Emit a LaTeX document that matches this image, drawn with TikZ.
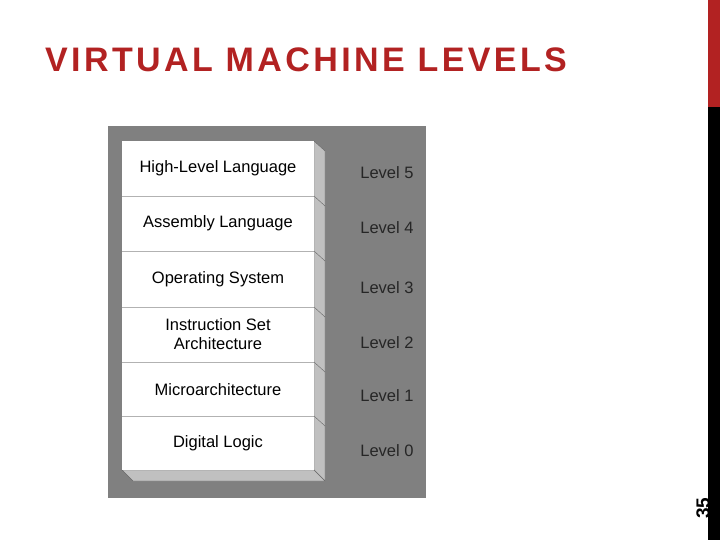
\documentclass[tikz,border=0pt]{standalone}
\usepackage{fontspec}
\setmainfont{Liberation Sans}
\newfontfamily\titlefont[LetterSpace=10]{Liberation Sans}
\definecolor{titlered}{RGB}{178,34,34}
\definecolor{panel}{RGB}{128,128,128}
\definecolor{bevel}{RGB}{192,192,192}
\begin{document}
\begin{tikzpicture}[x=1pt,y=-1pt,
  lbl/.style={font=\fontsize{16.5}{19}\selectfont, align=center, text=black},
  lvl/.style={font=\fontsize{16.5}{19}\selectfont, text=black!85}]
\useasboundingbox (0,0) rectangle (720,540);
\fill[white] (0,0) rectangle (720,540);
\fill[titlered] (708,0) rectangle (720,107);
\fill[black] (708,107) rectangle (720,540);
\node[anchor=base west, text=titlered, font=\titlefont\fontsize{34}{38}\selectfont\bfseries, inner sep=0] (title) at (45,72) {VIRTUAL MACHINE LEVELS};
\node[rotate=90, anchor=center, font=\fontsize{19}{21}\selectfont\bfseries, inner sep=0] (pg) at (703,508) {35};
\fill[panel] (108,126) rectangle (426,498);
\fill[bevel, draw=black!60, line width=0.4] (314,141) -- (325,151) -- (325,481) -- (314,470) -- cycle;
\fill[bevel, draw=black!60, line width=0.4] (122,470) -- (314,470) -- (325,481) -- (133,481) -- cycle;
\fill[white] (122,141) rectangle (314,470);
\foreach \y in {196,251,307,362,416}{
  \draw[black!30, line width=0.6] (122,\y) -- (314,\y);
  \draw[black!60, line width=0.4] (314,\y) -- (325,\y+10);
}
\node[lbl] (l5) at (218,168) {High-Level Language};
\node[lbl] (l4) at (218,223) {Assembly Language};
\node[lbl] (l3) at (218,279) {Operating System};
\node[lbl] (l2) at (218,334) {Instruction Set\\Architecture};
\node[lbl] (l1) at (218,390) {Microarchitecture};
\node[lbl] (l0) at (218,443) {Digital Logic};
\node[lvl] (v5) at (387,173) {Level 5};
\node[lvl] (v4) at (387,228) {Level 4};
\node[lvl] (v3) at (387,288) {Level 3};
\node[lvl] (v2) at (387,343) {Level 2};
\node[lvl] (v1) at (387,396) {Level 1};
\node[lvl] (v0) at (387,451) {Level 0};
\end{tikzpicture}
\end{document}
